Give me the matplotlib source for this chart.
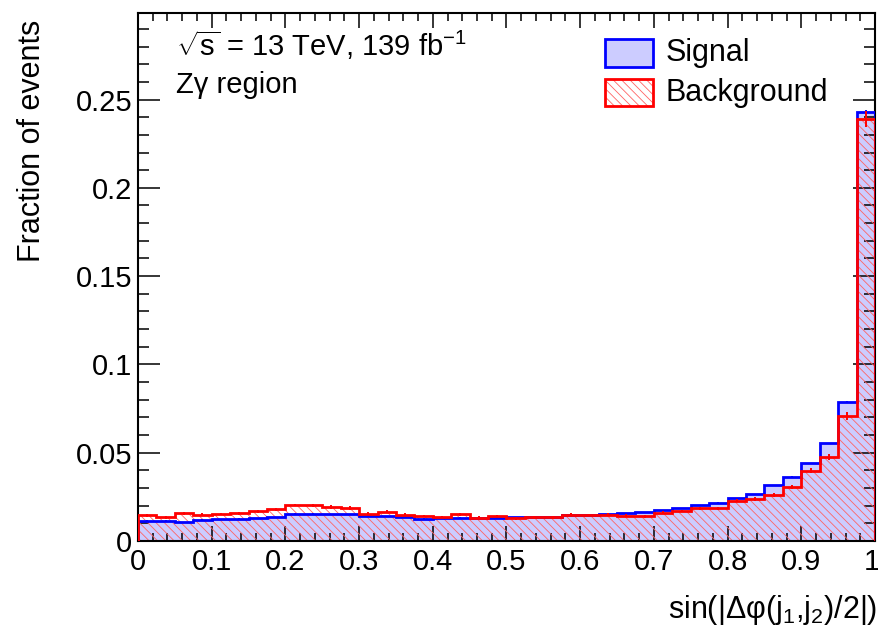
import numpy as np
import matplotlib
matplotlib.use('Agg')
import matplotlib.pyplot as plt
from matplotlib.patches import Rectangle
from matplotlib.ticker import MultipleLocator, FuncFormatter
from matplotlib.transforms import ScaledTranslation

plt.rcParams['font.family'] = ['Liberation Sans', 'DejaVu Sans']
plt.rcParams['mathtext.fontset'] = 'custom'
plt.rcParams['mathtext.rm'] = 'Liberation Sans'
plt.rcParams['mathtext.it'] = 'Liberation Sans'
plt.rcParams['mathtext.bf'] = 'Liberation Sans:bold'
plt.rcParams['hatch.linewidth'] = 0.6

# ---------------- data ----------------
x_min, x_max, n_bins = 0.0, 1.0, 40

signal = [0.0115, 0.0115, 0.0108, 0.0121, 0.0123, 0.0126, 0.0130, 0.0136,
          0.0155, 0.0155, 0.0153, 0.0151, 0.0143, 0.0140, 0.0136, 0.0126,
          0.0128, 0.0132, 0.0128, 0.0132, 0.0136, 0.0138, 0.0138, 0.0145,
          0.0149, 0.0153, 0.0157, 0.0162, 0.0175, 0.0187, 0.0204, 0.0217,
          0.0242, 0.0264, 0.0315, 0.0364, 0.0440, 0.0553, 0.0788, 0.2430]
signal_err = [0.0002] * 32 + [0.0002, 0.0002, 0.0003, 0.0003, 0.0003, 0.0004, 0.0005, 0.0009]

background = [0.0146, 0.0134, 0.0157, 0.0149, 0.0153, 0.0157, 0.0168, 0.0179,
              0.0204, 0.0202, 0.0192, 0.0187, 0.0155, 0.0166, 0.0149, 0.0142,
              0.0136, 0.0151, 0.0132, 0.0142, 0.0128, 0.0134, 0.0134, 0.0149,
              0.0147, 0.0149, 0.0143, 0.0140, 0.0160, 0.0170, 0.0185, 0.0186,
              0.0228, 0.0238, 0.0260, 0.0304, 0.0398, 0.0477, 0.0708, 0.2390]
background_err = [0.0008] * 9 + [0.0010, 0.0011, 0.0013] + [0.0008] * 20 + \
                 [0.0009, 0.0009, 0.0010, 0.0011, 0.0015, 0.0016, 0.0023, 0.0047]

x_ticks = [0, 0.1, 0.2, 0.3, 0.4, 0.5, 0.6, 0.7, 0.8, 0.9, 1]
y_ticks = [0, 0.05, 0.1, 0.15, 0.2, 0.25]
y_max = 0.299

x_title = r'sin(|Δφ(j$_{1}$,j$_{2}$)/2|)'
y_title = 'Fraction of events'
label_lines = [r'$\sqrt{\mathrm{s}}$ = 13 TeV, 139 fb$^{-1}$', 'Zγ region']
legend_labels = ['Signal', 'Background']

# ---------------- figure ----------------
W, H = 879, 639
fig = plt.figure(figsize=(W / 100, H / 100), dpi=100)
L, R, T, B = 138, 875, 13, 541
ax = fig.add_axes([L / W, 1 - B / H, (R - L) / W, (B - T) / H])

edges = np.linspace(x_min, x_max, n_bins + 1)
centers = 0.5 * (edges[:-1] + edges[1:])

sig_fill = '#ccccff'
hatch_col = '#ff6464'
hatch_pat = '\\\\\\\\'

ax.stairs(signal, edges, fill=True, facecolor=sig_fill, edgecolor='none', lw=0, zorder=1)
ax.stairs(background, edges, fill=True, facecolor='none', edgecolor=hatch_col,
          hatch=hatch_pat, lw=0, zorder=2)
ax.stairs(signal, edges, color='#0000ff', lw=2.0, zorder=3)
ax.errorbar(centers, signal, yerr=signal_err, fmt='none', ecolor='#0000ff',
            elinewidth=1.4, capsize=0, zorder=3)
ax.stairs(background, edges, color='#ff0000', lw=2.0, zorder=4)
ax.errorbar(centers, background, yerr=background_err, fmt='none', ecolor='#ff0000',
            elinewidth=1.4, capsize=0, zorder=4)

ax.set_xlim(x_min, x_max)
ax.set_ylim(0, y_max)

ax.set_xticks(x_ticks)
ax.set_yticks(y_ticks)
ax.xaxis.set_minor_locator(MultipleLocator(0.02))
ax.yaxis.set_minor_locator(MultipleLocator(0.01))
fmt = FuncFormatter(lambda v, p: '%g' % v)
ax.xaxis.set_major_formatter(fmt)
ax.yaxis.set_major_formatter(fmt)

ax.tick_params(which='both', direction='in', top=True, right=True, width=1.1, color='black')
ax.xaxis.set_tick_params(which='major', length=11, labelsize=21, pad=5)
ax.xaxis.set_tick_params(which='minor', length=5.5)
ax.yaxis.set_tick_params(which='major', length=16, labelsize=21, pad=4)
ax.yaxis.set_tick_params(which='minor', length=8)
for s in ax.spines.values():
    s.set_linewidth(1.5)

# nudge the last x label so it stays inside the canvas
last_lbl = ax.get_xticklabels()[-1]
last_lbl.set_transform(last_lbl.get_transform() + ScaledTranslation(-3 / 100, 0, fig.dpi_scale_trans))

# axis titles (ROOT style, aligned to the end)
fig.text(32 / W, 1 - 20 / H, y_title, rotation=90, ha='center', va='top', fontsize=22)
fig.text(877 / W, 1 - 610 / H, x_title, ha='right', va='center', fontsize=22)

# labels
fig.text(176 / W, 1 - 56 / H, label_lines[0], ha='left', va='baseline', fontsize=21)
fig.text(176 / W, 1 - 93 / H, label_lines[1], ha='left', va='baseline', fontsize=21)

# legend
bx, bw, bh = 605, 48, 28
fig.add_artist(Rectangle((bx / W, 1 - 67 / H), bw / W, bh / H, transform=fig.transFigure,
                         facecolor=sig_fill, edgecolor='#0000ff', lw=2))
fig.add_artist(Rectangle((bx / W, 1 - 106 / H), bw / W, 27 / H, transform=fig.transFigure,
                         facecolor='white', edgecolor=hatch_col, hatch=hatch_pat, lw=0))
fig.add_artist(Rectangle((bx / W, 1 - 106 / H), bw / W, 27 / H, transform=fig.transFigure,
                         facecolor='none', edgecolor='#ff0000', lw=2))
fig.text(666 / W, 1 - 61 / H, legend_labels[0], ha='left', va='baseline', fontsize=22)
fig.text(666 / W, 1 - 101 / H, legend_labels[1], ha='left', va='baseline', fontsize=22)

fig.savefig('out.png', dpi=100)
